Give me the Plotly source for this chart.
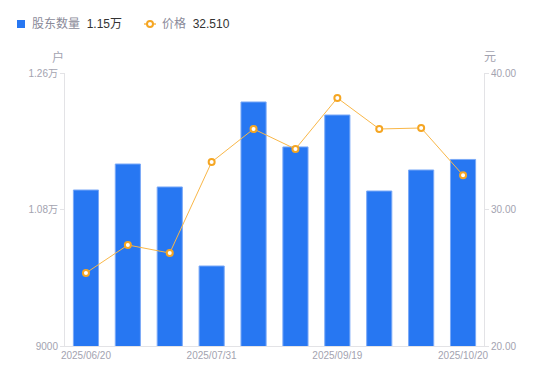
import plotly.graph_objects as go

dates = ["2025/06/20", "2025/06/30", "2025/07/18", "2025/07/31", "2025/08/20",
         "2025/08/29", "2025/09/19", "2025/09/30", "2025/10/10", "2025/10/20"]
holders = [11057, 11400, 11097, 10055, 12218, 11625, 12046, 11044, 11321, 11460]
prices = [25.35, 27.40, 26.81, 33.48, 35.90, 34.43, 38.17, 35.90, 35.97, 32.51]

left_ticks = [9000, 10800, 12600]
left_labels = ["9000", "1.08万", "1.26万"]
right_ticks = [20, 30, 40]
right_labels = ["20.00", "30.00", "40.00"]
x_ticks = [dates[0], dates[3], dates[6], dates[9]]

font = "Liberation Sans, Noto Sans CJK SC, sans-serif"
axis_grey = "#e3e3e6"
label_grey = "#a3a3b0"
bar_blue = "#2777f2"
line_orange = "#f9b748"

W, H = 550, 381
OFF = 8  # page body margin offset
# plot area in screen pixels
X0, X1, Y0, Y1 = 65, 484, 73, 346
L = X0 - OFF
T = Y0 - OFF
R = W - (X1 - OFF)
B = H - (Y1 - OFF)
PW, PH = W - L - R, H - T - B


def px(x):
    return (x - OFF - L) / PW


def py(y):
    return (H - B - (y - OFF)) / PH


fig = go.Figure()
fig.add_trace(go.Bar(
    x=dates, y=holders, name="股东数量",
    marker=dict(color=bar_blue, line=dict(color="#7aa9f7", width=1)),
    width=0.6, yaxis="y",
))
fig.add_trace(go.Scatter(
    x=dates, y=prices, name="价格",
    mode="lines+markers",
    line=dict(color=line_orange, width=1),
    marker=dict(symbol="circle", size=6, color="white",
                line=dict(color="#f5a623", width=2)),
    yaxis="y2",
))

shapes = [
    dict(type="rect", xref="paper", yref="paper", x0=px(17), x1=px(25), y0=py(28), y1=py(20),
         fillcolor=bar_blue, line=dict(width=0)),
    dict(type="line", xref="paper", yref="paper", x0=px(144), x1=px(156), y0=py(24), y1=py(24),
         line=dict(color=line_orange, width=1.5)),
    dict(type="circle", xref="paper", yref="paper", x0=px(147), x1=px(153), y0=py(27), y1=py(21),
         fillcolor="white", line=dict(color="#f5a623", width=2)),
]

annotations = [
    dict(text="股东数量  <span style='color:#333'>1.15万</span>", xref="paper", yref="paper",
         x=px(30), y=py(24), showarrow=False, xanchor="left", yanchor="middle",
         font=dict(size=12, color="#8a8a99")),
    dict(text="价格  <span style='color:#333'>32.510</span>", xref="paper", yref="paper",
         x=px(160), y=py(24), showarrow=False, xanchor="left", yanchor="middle",
         font=dict(size=12, color="#8a8a99")),
    dict(text="户", xref="paper", yref="paper", x=px(58), y=py(57), showarrow=False,
         xanchor="center", yanchor="middle", font=dict(size=12, color=label_grey)),
    dict(text="元", xref="paper", yref="paper", x=px(490), y=py(57), showarrow=False,
         xanchor="center", yanchor="middle", font=dict(size=12, color=label_grey)),
]

fig.update_layout(
    width=W, height=H,
    margin=dict(l=L, r=R, t=T, b=B, autoexpand=False),
    paper_bgcolor="white", plot_bgcolor="white",
    font=dict(family=font, size=10, color=label_grey),
    showlegend=False,
    xaxis=dict(type="category", range=[-0.5, len(dates) - 0.5],
               tickmode="array", tickvals=x_ticks, ticktext=x_ticks,
               showline=True, linecolor=axis_grey, linewidth=1,
               ticks="", showgrid=False, tickfont=dict(size=10, color=label_grey)),
    yaxis=dict(range=[9000, 12600], tickmode="array", tickvals=left_ticks,
               ticktext=left_labels, showline=True, linecolor=axis_grey,
               ticks="outside", ticklen=4, tickcolor=axis_grey,
               showgrid=False, zeroline=False, tickfont=dict(size=10, color=label_grey)),
    yaxis2=dict(range=[20, 40], overlaying="y", side="right", tickmode="array",
                tickvals=right_ticks, ticktext=right_labels, showline=True,
                linecolor=axis_grey, ticks="outside", ticklen=4, tickcolor=axis_grey,
                showgrid=False, zeroline=False, tickfont=dict(size=10, color=label_grey)),
    shapes=shapes,
    annotations=annotations,
)

fig.write_html("out.html")
